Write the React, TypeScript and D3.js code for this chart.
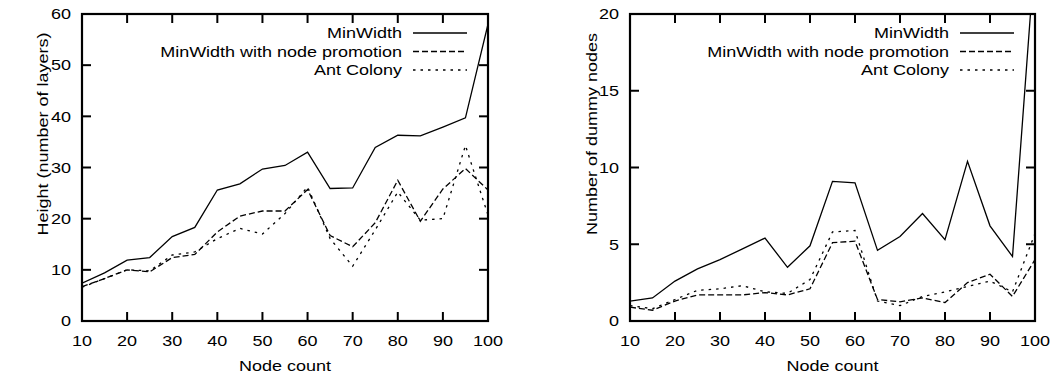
import React from "react";
import * as d3 from "d3";

const nodeCounts = [10, 15, 20, 25, 30, 35, 40, 45, 50, 55, 60, 65, 70, 75, 80, 85, 90, 95, 100];

const heightMinWidth = [7.4, 9.4, 11.9, 12.4, 16.5, 18.3, 25.6, 26.8, 29.7, 30.4, 33.0, 25.9, 26.0, 33.9, 36.3, 36.2, 37.9, 39.7, 58];
const heightPromotion = [6.7, 8.3, 10.0, 9.6, 12.4, 13.0, 17.4, 20.5, 21.5, 21.5, 25.7, 16.7, 14.5, 19.2, 27.5, 19.5, 25.8, 29.8, 25.6];
const heightAnt = [6.6, 8.3, 10.0, 9.8, 12.9, 13.5, 16.1, 18.1, 17.0, 21.0, 26.2, 16.1, 10.7, 17.8, 25.2, 19.7, 20.0, 34.3, 20.7];

const dummyMinWidth = [1.3, 1.5, 2.6, 3.4, 4.0, 4.7, 5.4, 3.5, 4.9, 9.1, 9.0, 4.6, 5.5, 7.0, 5.3, 10.4, 6.2, 4.2, 24];
const dummyPromotion = [0.9, 0.7, 1.3, 1.7, 1.7, 1.7, 1.85, 1.7, 2.1, 5.1, 5.2, 1.4, 1.25, 1.5, 1.2, 2.5, 3.05, 1.6, 4.0];
const dummyAnt = [1.0, 0.8, 1.4, 2.0, 2.1, 2.3, 1.9, 1.8, 2.7, 5.8, 5.9, 1.3, 1.0, 1.6, 1.9, 2.25, 2.6, 1.9, 5.7];

const seriesNames = ["MinWidth", "MinWidth with node promotion", "Ant Colony"];
const xTicks = [10, 20, 30, 40, 50, 60, 70, 80, 90, 100];
const heightTicks = [0, 10, 20, 30, 40, 50, 60];
const dummyTicks = [0, 5, 10, 15, 20];

const dashes = ["none", "6,3", "2.5,5"];
const FONT = "'Liberation Sans', Arial, Helvetica, sans-serif";
const FS = 15;
const SX = 1.2;

function T({ x, y, anchor = "middle", rotate = 0, children, dy = "0.35em" }: any) {
  return (
    <g transform={`translate(${x},${y}) rotate(${rotate}) scale(${SX},1)`}>
      <text textAnchor={anchor} dy={dy} fontFamily={FONT} fontSize={FS} fill="#000">
        {children}
      </text>
    </g>
  );
}

function Panel({ id, left, right, top, bottom, yMax, yTicks, yLabel, series, legendTextX, yLabelX }: any) {
  const x = d3.scaleLinear().domain([10, 100]).range([left, right]);
  const y = d3.scaleLinear().domain([0, yMax]).range([bottom, top]);
  const line = d3
    .line<number>()
    .x((_, i) => x(nodeCounts[i]))
    .y((d) => y(d));
  const tickLen = 9;
  const legendY = [33, 51.5, 70];
  return (
    <g>
      <defs>
        <clipPath id={id}>
          <rect x={left} y={top} width={right - left} height={bottom - top} />
        </clipPath>
      </defs>
      <g clipPath={`url(#${id})`}>
        {series.map((s: number[], k: number) => (
          <path
            key={k}
            d={line(s) || ""}
            fill="none"
            stroke="#000"
            strokeWidth={1.3}
            strokeDasharray={dashes[k]}
          />
        ))}
      </g>
      {xTicks.map((t) => (
        <g key={"x" + t}>
          <line x1={x(t)} x2={x(t)} y1={bottom} y2={bottom - tickLen} stroke="#000" strokeWidth={2} />
          <line x1={x(t)} x2={x(t)} y1={top} y2={top + tickLen} stroke="#000" strokeWidth={2} />
          <T x={x(t)} y={341}>{t}</T>
        </g>
      ))}
      {yTicks.map((t: number) => (
        <g key={"y" + t}>
          <line x1={left} x2={left + tickLen} y1={y(t)} y2={y(t)} stroke="#000" strokeWidth={2} />
          <line x1={right} x2={right - tickLen} y1={y(t)} y2={y(t)} stroke="#000" strokeWidth={2} />
          <T x={left - 11} y={y(t)} anchor="end">{t}</T>
        </g>
      ))}
      <rect x={left} y={top} width={right - left} height={bottom - top} fill="none" stroke="#000" strokeWidth={2.2} />
      <T x={(left + right) / 2} y={366}>Node count</T>
      <T x={yLabelX} y={134} rotate={-90}>{yLabel}</T>
      {seriesNames.map((n, k) => (
        <g key={"l" + k}>
          <T x={legendTextX} y={legendY[k]} anchor="end">{n}</T>
          <line
            x1={legendTextX + 11}
            x2={legendTextX + 65}
            y1={legendY[k]}
            y2={legendY[k]}
            stroke="#000"
            strokeWidth={1.3}
            strokeDasharray={dashes[k]}
          />
        </g>
      ))}
    </g>
  );
}

export default function App() {
  return (
    <svg
      width={1058}
      height={379}
      style={{ position: "absolute", left: 0, top: 0, background: "#fff" }}
    >
      <rect x={0} y={0} width={1058} height={379} fill="#fff" />
      <Panel
        id="clipL"
        left={82}
        right={488}
        top={14}
        bottom={321}
        yMax={60}
        yTicks={heightTicks}
        yLabel="Height (number of layers)"
        series={[heightMinWidth, heightPromotion, heightAnt]}
        legendTextX={402}
        yLabelX={43}
      />
      <Panel
        id="clipR"
        left={630}
        right={1035}
        top={14}
        bottom={321}
        yMax={20}
        yTicks={dummyTicks}
        yLabel="Number of dummy nodes"
        series={[dummyMinWidth, dummyPromotion, dummyAnt]}
        legendTextX={949}
        yLabelX={592}
      />
    </svg>
  );
}
